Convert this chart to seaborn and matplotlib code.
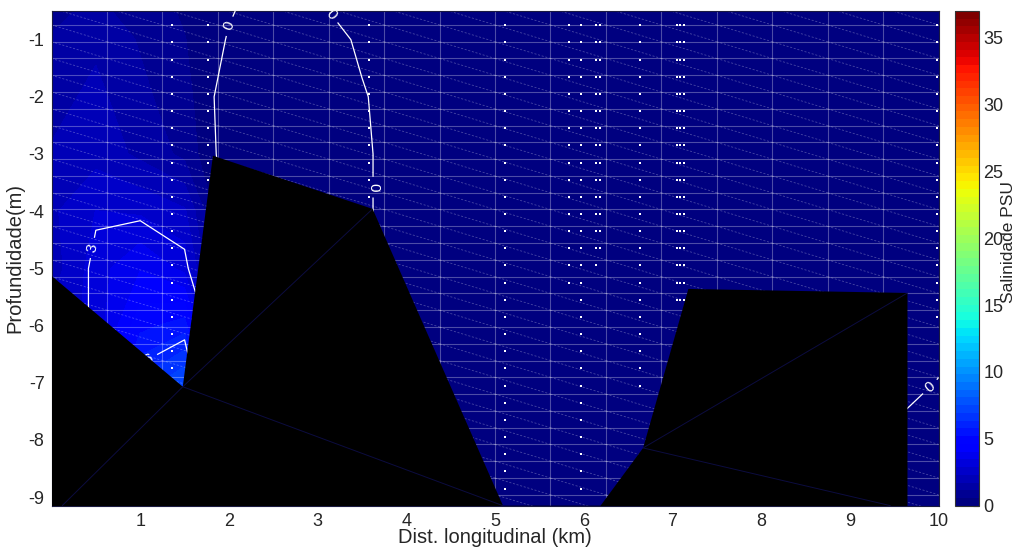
import numpy as np
import matplotlib
matplotlib.use("Agg")
import matplotlib.pyplot as plt
from matplotlib.collections import LineCollection
from matplotlib.colors import Normalize
from matplotlib.cm import ScalarMappable
import pandas as pd
import seaborn as sns

# ---- salinity section (PSU) on a coarse distance/depth grid ----
grid_x_km = [0.0, 0.5, 1.0, 1.5, 2.0, 2.5, 3.0, 3.5, 4.0, 5.0, 6.0, 7.0, 8.0, 9.0, 9.5, 10.0]
grid_depth_m = [-0.5, -1.0, -2.0, -3.0, -4.0, -5.0, -6.0, -7.0, -8.0, -9.15]
salinity_psu = [
    [1.0, 1.3, 0.9, 0.5, 0.05, -0.3, -0.1, 0.3, 0.2, 0.2, 0.2, 0.2, 0.2, 0.2, 0.2, 0.2],
    [1.2, 1.6, 1.1, 0.6, -0.05, -0.4, -0.3, 0.1, 0.25, 0.2, 0.2, 0.2, 0.2, 0.2, 0.2, 0.2],
    [1.5, 1.9, 1.3, 0.8, -0.4, -0.5, -0.4, -0.05, 0.3, 0.2, 0.2, 0.2, 0.2, 0.2, 0.2, 0.2],
    [1.8, 2.1, 1.6, 1.0, -0.4, -0.5, -0.4, -0.1, 0.3, 0.2, 0.2, 0.2, 0.2, 0.2, 0.2, 0.2],
    [2.2, 2.9, 2.8, 2.4, -0.4, -0.5, -0.4, -0.1, 0.3, 0.2, 0.2, 0.2, 0.2, 0.2, 0.2, 0.2],
    [2.0, 3.2, 4.0, 3.3, -0.3, -0.4, -0.4, -0.1, 0.3, 0.2, 0.2, 0.2, 0.2, 0.2, 0.2, 0.2],
    [2.5, 3.1, 5.0, 5.5, 0.2, -0.3, -0.3, -0.1, 0.3, 0.2, 0.2, 0.2, 0.2, 0.2, 0.2, 0.2],
    [2.8, 3.5, 6.5, 7.5, 1.0, -0.2, -0.2, -0.1, 0.3, 0.2, 0.2, 0.2, 0.2, 0.2, 0.2, -0.02],
    [2.8, 3.5, 5.0, 5.0, 1.0, 0.0, -0.1, -0.1, 0.3, 0.2, 0.2, 0.2, 0.2, 0.2, -0.1, -0.4],
    [2.5, 3.0, 4.0, 4.0, 0.8, 0.0, -0.1, -0.1, 0.3, 0.2, 0.2, 0.2, 0.2, 0.1, -0.2, -0.5],
]
line_levels = [0, 3, 6]
salinity_max = 37

# ---- sampling stations: distance and deepest sample ----
station_x_km = [1.36, 1.77, 3.58, 5.11, 5.83, 5.97, 6.14, 6.18, 6.64, 7.05, 7.09, 7.13, 9.98]
station_max_depth_m = [6.75, 3.45, 3.75, 8.85, 5.25, 8.85, 4.95, 4.65, 7.05, 5.55, 5.55, 5.55, 5.85]
sample_depths_m = [0.75, 1.05, 1.35, 1.65, 1.95, 2.25, 2.55, 2.85, 3.15, 3.45, 3.75, 4.05,
                   4.35, 4.65, 4.95, 5.25, 5.55, 5.85, 6.15, 6.45, 6.75, 7.05, 7.35, 7.65,
                   7.95, 8.25, 8.55, 8.85]

# ---- river bed outline ----
bed_x_km = [0.0, 1.48, 1.82, 3.62, 5.09, 6.19, 6.67, 7.18, 9.65, 9.65, 0.0]
bed_depth_m = [-5.13, -7.07, -3.03, -3.96, -9.15, -9.15, -8.14, -5.36, -5.43, -9.6, -9.6]
bed_edges = [((1.48, -7.07), (3.62, -3.96)), ((1.48, -7.07), (0.12, -9.15)),
             ((1.48, -7.07), (5.09, -9.15)), ((6.67, -8.14), (9.65, -5.43)),
             ((6.67, -8.14), (9.46, -9.15))]

x_ticks = [1, 2, 3, 4, 5, 6, 7, 8, 9, 10]
y_ticks = [-1, -2, -3, -4, -5, -6, -7, -8, -9]
cbar_ticks = [0, 5, 10, 15, 20, 25, 30, 35]

sns.set_style("white")
plt.rcParams["font.family"] = ["Liberation Sans", "DejaVu Sans"]
plt.rcParams["axes.unicode_minus"] = False

W, H = 1019, 551
fig = plt.figure(figsize=(W / 100, H / 100), dpi=100)
ax = fig.add_axes([51.5 / W, (H - 505.7) / H, 887 / W, 494.7 / H])
cax = fig.add_axes([955 / W, (H - 505.7) / H, 24.3 / W, 494.7 / H])

cmap = plt.get_cmap("jet", 64).copy()
cmap.set_under(cmap(0))
bands = np.linspace(0, salinity_max, 65)

X, Z = np.meshgrid(grid_x_km, grid_depth_m)
S = np.array(salinity_psu)
ax.contourf(X, Z, S, levels=bands, cmap=cmap, extend="min", zorder=1)

# interpolation mesh drawn faintly over the field
mesh_x = np.linspace(0, 10, 17)
mesh_z = -0.45 - 0.2934 * np.arange(0, 31)
for mx in mesh_x[1:-1]:
    ax.axvline(mx, color="white", alpha=0.3, lw=0.8, zorder=2)
for mz in mesh_z[1:-1]:
    ax.axhline(mz, color="white", alpha=0.3, lw=0.8, zorder=2)
diag = []
for i in range(len(mesh_x) - 1):
    for j in range(len(mesh_z) - 1):
        diag.append([(mesh_x[i], mesh_z[j]), (mesh_x[i + 1], mesh_z[j + 1])])
ax.add_collection(LineCollection(diag, colors="white", alpha=0.28, lw=0.6,
                                 linestyles=(0, (2.5, 2)), zorder=2))

# sample points
rows = []
for sx, dmax in zip(station_x_km, station_max_depth_m):
    for d in sample_depths_m:
        if d <= dmax + 1e-6:
            rows.append({"x": sx, "z": -d})
samples = pd.DataFrame(rows)
sns.scatterplot(data=samples, x="x", y="z", ax=ax, marker="s", s=3, color="white",
                linewidth=0, legend=False, zorder=3)

# isohalines
cs = ax.contour(X, Z, S, levels=line_levels, colors="white", linewidths=0.9, zorder=4)
ax.clabel(cs, fmt="%d", fontsize=11, colors="white", inline=True,
          manual=[(2.06, -0.79), (3.12, -0.62), (3.56, -3.58), (0.48, -4.65),
                  (1.1, -6.6), (9.89, -7.04)])

# river bed
ax.fill(bed_x_km, bed_depth_m, color="black", lw=0, zorder=6)
ax.add_collection(LineCollection(bed_edges, colors="#0c0c40", lw=0.7, zorder=7))

ax.set_xlim(0, 10)
ax.set_ylim(-9.15, -0.5)
ax.set_xticks(x_ticks)
ax.set_yticks(y_ticks)
ax.tick_params(length=0, labelsize=13, colors="#262626", pad=5)
ax.set_xlabel("Dist. longitudinal (km)", fontsize=14.5, color="#262626", labelpad=-1)
ax.set_ylabel("Profundidade(m)", fontsize=14.5, color="#262626", labelpad=3)
for sp in ax.spines.values():
    sp.set_color("#1a1a40")
    sp.set_linewidth(0.8)

sm = ScalarMappable(norm=Normalize(0, salinity_max), cmap=cmap)
cb = fig.colorbar(sm, cax=cax, ticks=cbar_ticks)
cb.outline.set_edgecolor("#333333")
cb.outline.set_linewidth(0.8)
cax.tick_params(direction="in", length=4, width=0.8, color="#333333",
                labelsize=13, labelcolor="#262626", pad=3)
cax.text(2.2, 0.533, "Salinidade PSU", transform=cax.transAxes, rotation=90,
         ha="center", va="center", fontsize=12.5, color="#262626")

fig.savefig("out.png", dpi=100)
